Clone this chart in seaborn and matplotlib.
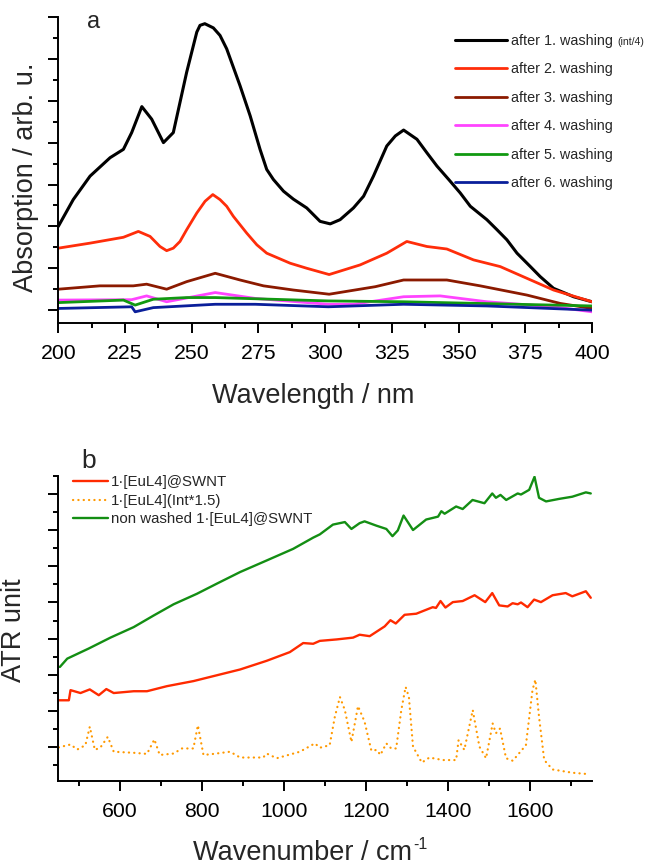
import matplotlib
matplotlib.use("Agg")
import matplotlib.pyplot as plt
import seaborn as sns
import numpy as np
from matplotlib.ticker import MultipleLocator

# ---------------- Panel a data (UV-vis) ----------------
wl_black = [200, 205.6, 211.9, 219.4, 224.4, 227.5, 231.3, 235, 239.4, 243.1, 248.1, 251.9, 253.1,
            254.9, 258.1, 260.6, 263.1, 268.1, 271.9, 275.6, 278.1, 280.6, 284.4, 288.1, 293.1,
            298.1, 301.9, 305.6, 310.6, 314.4, 318.1, 323.1, 326.3, 329.4, 334.4, 338.1, 341.9,
            346.3, 350.6, 354.4, 360.6, 364.4, 368.1, 371.9, 376.9, 380.6, 385.6, 389.4, 393.1, 400]
abs_black = [2.0, 2.64, 3.2, 3.64, 3.84, 4.24, 4.86, 4.56, 4.0, 4.24, 5.68, 6.64, 6.8,
             6.84, 6.74, 6.56, 6.24, 5.36, 4.64, 3.84, 3.36, 3.12, 2.84, 2.65, 2.44,
             2.12, 2.06, 2.16, 2.44, 2.72, 3.2, 3.92, 4.16, 4.30, 4.08, 3.76, 3.44,
             3.12, 2.80, 2.48, 2.16, 1.92, 1.68, 1.36, 1.04, 0.8, 0.52, 0.42, 0.32, 0.20]

wl_red = [200, 211.9, 224.4, 230, 234.4, 238.1, 240.6, 243.1, 245.6, 248.1, 251.9, 255, 257.9,
          260.6, 263.1, 265.6, 270.6, 274.4, 278.1, 286.9, 293.1, 301.5, 313.1, 323.1, 330.6,
          338.1, 345.6, 355.6, 365.6, 375.6, 385.6, 400]
abs_red = [1.48, 1.60, 1.74, 1.88, 1.76, 1.52, 1.42, 1.48, 1.64, 1.92, 2.32, 2.6, 2.76,
           2.64, 2.48, 2.24, 1.84, 1.56, 1.36, 1.12, 1.0, 0.85, 1.08, 1.36, 1.64,
           1.52, 1.46, 1.2, 1.04, 0.76, 0.48, 0.20]

wl_dred = [200, 215.6, 228.1, 233.1, 240.6, 248.1, 258.8, 268.1, 276.9, 288.1, 301.5, 318.8,
           329.4, 345.6, 358.1, 375.6, 388.1, 400]
abs_dred = [0.50, 0.58, 0.58, 0.62, 0.50, 0.68, 0.88, 0.72, 0.58, 0.48, 0.38, 0.56,
            0.72, 0.72, 0.58, 0.36, 0.16, 0.04]

wl_mag = [200, 227.5, 233.1, 240.6, 258.8, 273.8, 301.2, 310.6, 329.4, 343.1, 360.6, 385.6, 400]
abs_mag = [0.24, 0.25, 0.34, 0.20, 0.42, 0.28, 0.14, 0.14, 0.32, 0.34, 0.20, 0.08, -0.04]

wl_grn = [200, 224.4, 228.8, 235.6, 248.1, 258.8, 301.2, 329.4, 400]
abs_grn = [0.18, 0.24, 0.12, 0.26, 0.30, 0.30, 0.22, 0.20, 0.10]

wl_blu = [200, 227.5, 228.8, 235.6, 258.8, 273.8, 301.2, 329.4, 360.6, 400]
abs_blu = [0.04, 0.08, -0.04, 0.06, 0.14, 0.14, 0.08, 0.14, 0.10, 0.0]

labels_a = ["after 1. washing", "after 2. washing", "after 3. washing",
            "after 4. washing", "after 5. washing", "after 6. washing"]
colors_a = ["#000000", "#FF2D0A", "#8B1A00", "#FF44FF", "#119911", "#0A1F9A"]

# ---------------- Panel b data (ATR) ----------------
wn_grn = [453.8, 471.8, 524.3, 577, 633.6, 682.2, 730.8, 787.6, 836.2, 892.8, 957.6, 1022,
          1070.8, 1087, 1119, 1148, 1164, 1184, 1196, 1225, 1249, 1264, 1277, 1291, 1314,
          1346, 1375, 1383, 1391, 1419, 1435, 1459, 1488, 1507, 1516, 1527, 1541, 1569,
          1577, 1597, 1610, 1621, 1638, 1670, 1702, 1735, 1747]
atr_grn = [2.22, 2.45, 2.73, 3.03, 3.32, 3.64, 3.95, 4.24, 4.52, 4.84, 5.16, 5.48,
           5.79, 5.88, 6.15, 6.22, 6.03, 6.19, 6.24, 6.12, 6.03, 5.83, 5.99, 6.40, 6.0,
           6.29, 6.37, 6.52, 6.45, 6.65, 6.58, 6.83, 6.74, 7.01, 6.89, 6.97, 6.83, 7.01,
           6.98, 7.11, 7.47, 6.89, 6.79, 6.86, 6.92, 7.04, 7.01]

wn_red = [451.4, 475.7, 479.8, 504, 526.7, 548.6, 567, 585, 633.6, 666, 714.7, 779.3, 836,
          892.8, 957.6, 1014, 1046.5, 1070.8, 1087, 1128, 1168, 1184, 1208.5, 1245, 1259,
          1272, 1293.5, 1322, 1362, 1370, 1381, 1393, 1411, 1435, 1464, 1490, 1507, 1524,
          1544.5, 1556.6, 1569, 1577, 1593, 1609, 1625.6, 1654, 1686, 1702, 1735, 1747]
atr_red = [1.30, 1.30, 1.58, 1.50, 1.60, 1.44, 1.61, 1.50, 1.55, 1.55, 1.69, 1.83, 1.99,
           2.15, 2.39, 2.63, 2.88, 2.86, 2.94, 2.98, 3.03, 3.11, 3.07, 3.34, 3.51,
           3.42, 3.66, 3.69, 3.87, 3.85, 4.04, 3.86, 4.01, 4.04, 4.20, 4.01, 4.26, 3.92,
           3.89, 3.98, 3.95, 4.00, 3.87, 4.08, 4.01, 4.20, 4.26, 4.17, 4.31, 4.13]

wn_org = [451, 480, 496, 516, 526.7, 539, 552.7, 570.5, 585, 634, 666, 684, 697, 731, 751,
          779, 790, 803.6, 828, 868.5, 892.8, 949, 957.6, 982, 1038.5, 1075, 1087, 1111,
          1123.5, 1136, 1148, 1164, 1180, 1196, 1212.6, 1226, 1234.5, 1249, 1261, 1273,
          1285.5, 1296, 1304, 1314, 1335.5, 1354, 1386.6, 1419, 1425, 1439, 1459.5, 1475.7,
          1492, 1508, 1516, 1526, 1540.6, 1557, 1589, 1605, 1612, 1621, 1633.6, 1654,
          1702, 1743]
atr_org = [0.0, 0.08, -0.06, 0.06, 0.57, -0.07, 0.0, 0.29, -0.12, -0.15, -0.18, 0.22, -0.21,
           -0.17, -0.03, -0.03, 0.61, -0.21, -0.18, -0.12, -0.28, -0.28, -0.17, -0.30,
           -0.12, 0.11, -0.01, 0.06, 0.84, 1.39, 1.03, 0.15, 1.14, 0.71, -0.09, -0.07,
           -0.21, 0.11, -0.03, -0.03, 1.03, 1.67, 1.39, 0.02, -0.42, -0.28, -0.35, -0.35,
           0.20, -0.07, 1.03, 0.02, -0.30, 0.66, 0.39, 0.52, -0.30, -0.37, 0.06, 1.58,
           1.87, 0.84, -0.35, -0.61, -0.70, -0.74]

labels_b = ["1\u00b7[EuL4]@SWNT", "1\u00b7[EuL4](Int*1.5)", "non washed 1\u00b7[EuL4]@SWNT"]
colors_b = ["#FF2A00", "#FF9900", "#138E13"]

# ---------------- Style ----------------
sns.set_theme(style="ticks")
plt.rcParams["font.family"] = ["Liberation Sans", "DejaVu Sans"]
plt.rcParams["axes.linewidth"] = 1.4
plt.rcParams["axes.edgecolor"] = "black"

W, H = 648, 866
fig = plt.figure(figsize=(6.48, 8.66), dpi=100)
fig.patch.set_facecolor("white")

def fx(px):
    return px / W

def fy(py):
    return 1 - py / H

L, R = 58.3, 592.0
axA = fig.add_axes([fx(L), fy(322.7), fx(R - L), (322.7 - 17) / H])
axB = fig.add_axes([fx(L), fy(780.7), fx(R - L), (780.7 - 475.7) / H])

for ax in (axA, axB):
    ax.set_facecolor("white")
    sns.despine(ax=ax)
    ax.tick_params(which="major", direction="out", length=7.5, width=1.4, labelsize=15.3,
                   pad=7.6, color="black", labelcolor="black")
    ax.tick_params(which="minor", direction="out", length=3.8, width=1.4, color="black")
    ax.tick_params(axis="y", labelleft=False)
    ax.grid(False)

# ---- Panel a ----
series_a = [(wl_black, abs_black), (wl_red, abs_red), (wl_dred, abs_dred),
            (wl_mag, abs_mag), (wl_grn, abs_grn), (wl_blu, abs_blu)]
for (xs, ys), c, lab in zip(series_a, colors_a, labels_a):
    sns.lineplot(x=xs, y=ys, ax=axA, color=c, lw=2.2 if c == "#000000" else 2.0,
                 sort=False, estimator=None, label=lab)
for ln in axA.get_lines():
    ln.set_solid_joinstyle("round")
axA.set_xlim(200, 400)
axA.set_ylim(-0.3, 7.0)
axA.xaxis.set_major_locator(MultipleLocator(25))
axA.xaxis.set_minor_locator(MultipleLocator(12.5))
axA.yaxis.set_major_locator(MultipleLocator(1))
axA.yaxis.set_minor_locator(MultipleLocator(0.5))
axA.set_xlabel("")
axA.set_ylabel("")
h, l = axA.get_legend_handles_labels()
legA = axA.legend(h, l, loc="upper left", bbox_to_anchor=(fx(455), fy(34)),
                  bbox_transform=fig.transFigure, frameon=False, fontsize=10.4,
                  handlelength=3.6, handletextpad=0.3, labelspacing=1.0,
                  borderpad=0, borderaxespad=0)

# ---- Panel b ----
series_b = [(wn_red, atr_red, "-"), (wn_org, atr_org, (0, (0.1, 2.3))), (wn_grn, atr_grn, "-")]
for (xs, ys, ls), c, lab in zip(series_b, colors_b, labels_b):
    sns.lineplot(x=xs, y=ys, ax=axB, color=c, lw=1.7 if ls == "-" else 1.6,
                 linestyle=ls, dash_capstyle="round", sort=False, estimator=None, label=lab)
axB.set_xlim(450, 1750)
axB.set_ylim(-0.92, 7.5)
axB.xaxis.set_major_locator(MultipleLocator(200))
axB.xaxis.set_minor_locator(MultipleLocator(100))
axB.yaxis.set_major_locator(MultipleLocator(1))
axB.yaxis.set_minor_locator(MultipleLocator(0.5))
axB.set_xlabel("")
axB.set_ylabel("")
h, l = axB.get_legend_handles_labels()
axB.legend(h, l, loc="upper left", bbox_to_anchor=(fx(72.7), fy(475.5)),
           bbox_transform=fig.transFigure, frameon=False, fontsize=10.8,
           handlelength=2.35, handletextpad=0.22, labelspacing=0.29,
           borderpad=0, borderaxespad=0)

# ---- Labels ----
fig.text(fx(313.5), fy(403), "Wavelength / nm", fontsize=19.5, ha="center", va="baseline")
wn_lab = fig.text(fx(193), fy(860), "Wavenumber / cm", fontsize=19.5, ha="left", va="baseline")
fig.text(fx(26), fy(177.5), "Absorption / arb. u.", fontsize=19.5, rotation=90,
         ha="center", va="center")
fig.text(fx(14.5), fy(630), "ATR unit", fontsize=19.5, rotation=90, ha="center", va="center")
fig.text(fx(94), fy(28.3), "a", fontsize=17, ha="center", va="baseline")
fig.text(fx(88.5), fy(468.3), "b", fontsize=19, ha="center", va="baseline")

# small suffixes placed after their parent texts
fig.canvas.draw()
rend = fig.canvas.get_renderer()
bb = legA.get_texts()[0].get_window_extent(rend)
fig.text((bb.x1 + 4) / W, (bb.y0 + 3.0) / H, "(int/4)", fontsize=7.6,
         ha="left", va="baseline")
bw = wn_lab.get_window_extent(rend)
fig.text((bw.x1 + 1) / W, fy(849), "-1", fontsize=11.5, ha="left", va="baseline")

fig.savefig("out.png", dpi=100, facecolor="white")
